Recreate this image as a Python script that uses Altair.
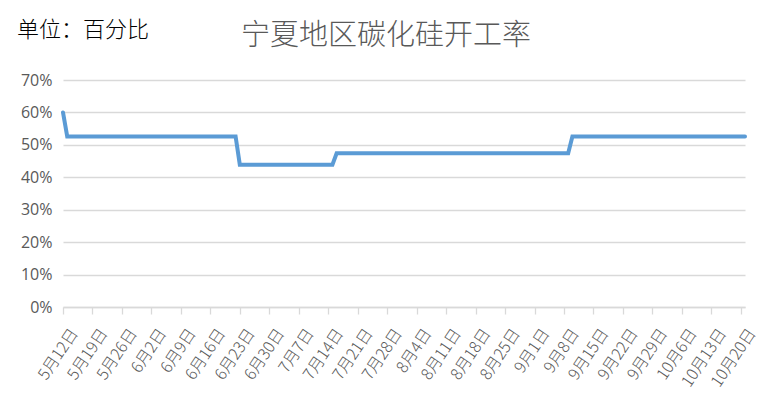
import altair as alt
import pandas as pd

# Breakpoints of the daily series (value constant between them)
dates = ["2024-05-12", "2024-05-13", "2024-06-22", "2024-06-23", "2024-07-15",
         "2024-07-16", "2024-09-09", "2024-09-10", "2024-10-21"]
rates = [0.60, 0.526, 0.526, 0.439, 0.439, 0.474, 0.474, 0.526, 0.526]

tick_dates = ["2024-05-12", "2024-05-19", "2024-05-26", "2024-06-02", "2024-06-09",
              "2024-06-16", "2024-06-23", "2024-06-30", "2024-07-07", "2024-07-14",
              "2024-07-21", "2024-07-28", "2024-08-04", "2024-08-11", "2024-08-18",
              "2024-08-25", "2024-09-01", "2024-09-08", "2024-09-15", "2024-09-22",
              "2024-09-29", "2024-10-06", "2024-10-13", "2024-10-20"]
y_ticks = [0, 0.1, 0.2, 0.3, 0.4, 0.5, 0.6, 0.7]
domain_dates = ["2024-05-12", "2024-10-21"]

title_text = "宁夏地区碳化硅开工率"
unit_text = "单位：百分比"


def dt(s):
    y, m, d = (int(p) for p in s.split("-"))
    return alt.DateTime(year=y, month=m, date=d, utc=True)


df = pd.DataFrame({"date": dates, "rate": rates})

CJK = "Noto Sans CJK SC"
GREY = "#595959"
GRID = "#D9D9D9"

line = alt.Chart(df).mark_line(color="#5B9BD5", strokeWidth=4, strokeCap="round").encode(
    x=alt.X(
        "date:T",
        scale=alt.Scale(type="utc", domain=[dt(s) for s in domain_dates], nice=False),
        axis=alt.Axis(
            title=None,
            values=[dt(s) for s in tick_dates],
            format="%-m月%-d日",
            formatType="time",
            labelAngle=-56,
            labelAlign="right",
            labelBaseline="middle",
            labelPadding=16,
            labelOffset=11,
            labelFont=CJK,
            labelFontSize=16,
            labelFontWeight=300,
            labelColor=GREY,
            labelOverlap=False,
            labelFlush=False,
            grid=False,
            domainColor=GRID,
            domainWidth=1.3,
            tickColor=GRID,
            tickWidth=1.3,
            tickSize=7,
        ),
    ),
    y=alt.Y(
        "rate:Q",
        scale=alt.Scale(domain=[0, 0.7], nice=False),
        axis=alt.Axis(
            title=None,
            values=y_ticks,
            format=".0%",
            labelFont="Open Sans",
            labelFontSize=16,
            labelColor=GREY,
            labelPadding=11,
            domain=False,
            ticks=False,
            grid=True,
            gridColor=GRID,
            gridWidth=1.3,
        ),
    ),
)

text_df = pd.DataFrame({"t": [title_text], "u": [unit_text]})

title = alt.Chart(text_df).mark_text(
    font=CJK, fontSize=29, fontWeight=300, color=GREY, align="left", baseline="middle"
).encode(x=alt.value(178), y=alt.value(-44), text="t:N")

unit = alt.Chart(text_df).mark_text(
    font=CJK, fontSize=22, fontWeight=300, color="#000000", align="left", baseline="middle"
).encode(x=alt.value(-46), y=alt.value(-50), text="u:N")

chart = alt.layer(line, title, unit).properties(
    width=682,
    height=227,
    autosize=alt.AutoSizeParams(type="none"),
    padding={"left": 55, "top": 72, "right": 17, "bottom": 101},
).configure(background="white").configure_view(stroke=None)

chart.save("out.html", embed_options={"renderer": "svg", "actions": False})
